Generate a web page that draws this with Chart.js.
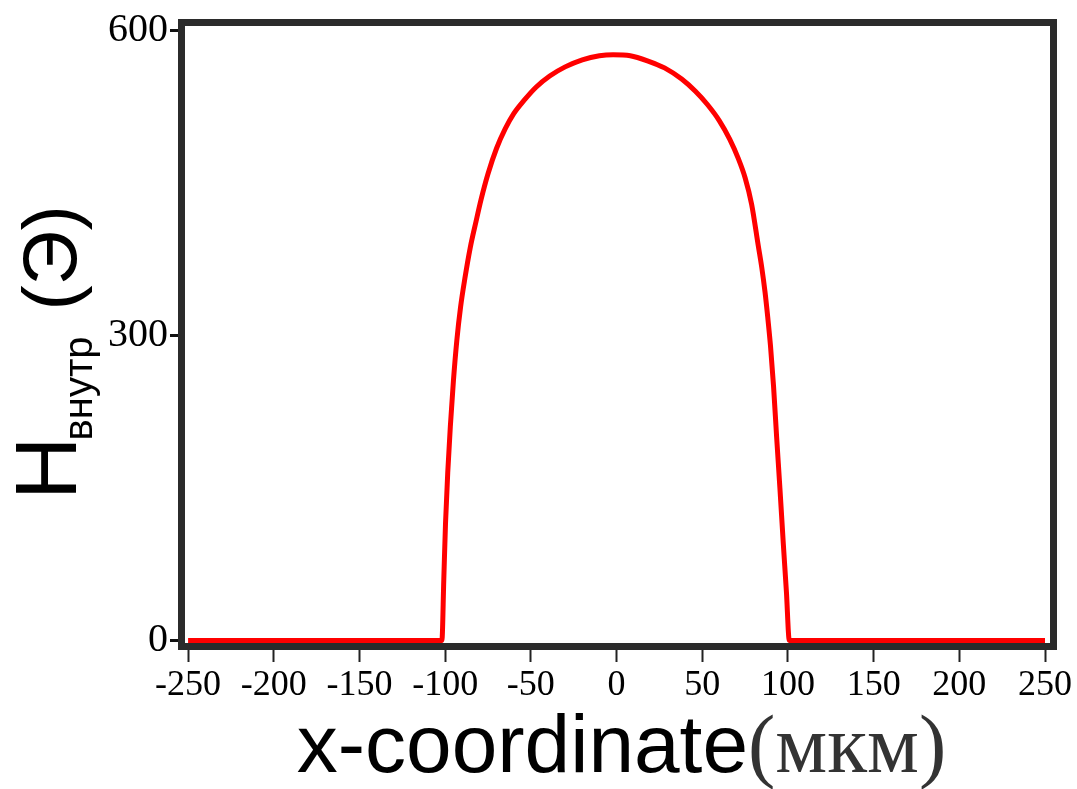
<!DOCTYPE html>
<html>
<head>
<meta charset="utf-8">
<script src="https://cdn.jsdelivr.net/npm/chart.js@4/dist/chart.umd.min.js"></script>
<style>
  html, body { margin: 0; padding: 0; background: #fff; }
  #wrap { width: 1077px; height: 789px; }
</style>
</head>
<body>
<div id="wrap"><canvas id="hChart"></canvas></div>
<script>
// x-coordinate (мкм) and H внутр (Э)
const xPos = [-250, -101.9, -100.8, -99.8, -98.5, -97, -95.2, -93.2, -91, -88.5, -85.4, -82, -79, -75, -70, -65, -60, -54, -47, -39, -30, -20, -10, -2, 8, 18, 28, 38, 46, 53, 60, 66, 71, 75, 78.8, 82.7, 84.7, 86.6, 88.2, 89.8, 91.6, 93.4, 95.3, 97.3, 99.1, 100.8, 250];
const hField = [0, 0, 60, 115, 165, 210, 255, 295, 328, 356, 386, 412, 434, 459, 484, 503, 518, 531, 544, 555, 564, 571, 575, 576, 575, 570, 563, 552, 540, 527, 511, 493, 474, 455, 429, 388, 367, 343, 318, 290, 250, 200, 150, 95, 48, 0, 0];

const xTicks = [-250, -200, -150, -100, -50, 0, 50, 100, 150, 200, 250];
const yTicks = [0, 300, 600];

const xTitle = 'x-coordinate';
const xUnit = '(мкм)';
const yTitleMain = 'H';
const yTitleSub = 'внутр';
const yTitleUnit = '(Э)';

const points = xPos.map((x, i) => ({ x: x, y: hField[i] }));

// frame on all four sides + the two axis titles
const framePlugin = {
    id: 'frame',
    afterDatasetsDraw(chart) {
        const a = chart.chartArea;
        const ctx = chart.ctx;
        ctx.save();
        ctx.strokeStyle = '#2b2b2b';
        ctx.lineWidth = 7;
        ctx.strokeRect(a.left - 3.5, a.top - 3.5, a.right - a.left + 7, a.bottom - a.top + 7);
        ctx.restore();
    },
    afterDraw(chart) {
        const a = chart.chartArea;
        const ctx = chart.ctx;
        ctx.save();
        ctx.textBaseline = 'alphabetic';
        ctx.textAlign = 'left';

        // x title
        const fMain = '82px "Liberation Sans", Arial, sans-serif';
        const fUnit = '82px "Liberation Serif", "Times New Roman", serif';
        ctx.font = fMain;
        const w1 = ctx.measureText(xTitle).width;
        ctx.font = fUnit;
        const w2 = ctx.measureText(xUnit).width;
        let x0 = (a.left + a.right) / 2 + 4 - (w1 + w2) / 2;
        const base = 772;
        ctx.font = fMain;
        ctx.fillStyle = '#000';
        ctx.fillText(xTitle, x0, base);
        ctx.font = fUnit;
        ctx.fillStyle = '#333';
        ctx.fillText(xUnit, x0 + w1, base);

        // y title, rotated
        ctx.translate(76, 500);
        ctx.rotate(-Math.PI / 2);
        ctx.fillStyle = '#000';
        let t = 0;
        ctx.font = '88px "Liberation Sans", Arial, sans-serif';
        ctx.fillText(yTitleMain, t, 0);
        t += ctx.measureText(yTitleMain).width - 4;
        ctx.font = '40px "Liberation Sans", Arial, sans-serif';
        ctx.fillText(yTitleSub, t, 16);
        t += ctx.measureText(yTitleSub).width + 26;
        ctx.font = '76px "Liberation Sans", Arial, sans-serif';
        ctx.fillText(yTitleUnit, t, 0);
        ctx.restore();
    }
};

const ctx = document.getElementById('hChart').getContext('2d');
new Chart(ctx, {
    type: 'scatter',
    data: {
        datasets: [{
            data: points,
            showLine: true,
            borderColor: '#ff0000',
            borderWidth: 5,
            pointRadius: 0,
            cubicInterpolationMode: 'monotone',
            fill: false
        }]
    },
    options: {
        responsive: true,
        maintainAspectRatio: false,
        animation: false,
        layout: { padding: { top: 25, right: 27, left: 0, bottom: 0 } },
        plugins: {
            legend: { display: false },
            tooltip: { enabled: false }
        },
        scales: {
            x: {
                type: 'linear',
                min: -251.8,
                max: 252.9,
                afterBuildTicks: s => { s.ticks = xTicks.map(v => ({ value: v })); },
                afterFit: s => { s.height = 146; },
                border: { display: false },
                grid: {
                    drawOnChartArea: false,
                    drawTicks: true,
                    tickLength: 19,
                    tickColor: '#222',
                    tickWidth: 2
                },
                ticks: {
                    color: '#000',
                    padding: 2,
                    maxRotation: 0,
                    autoSkip: false,
                    font: { family: '"Liberation Serif", "Times New Roman", serif', size: 36 }
                }
            },
            y: {
                type: 'linear',
                min: -2.45,
                max: 604.2,
                afterBuildTicks: s => { s.ticks = yTicks.map(v => ({ value: v })); },
                afterFit: s => { s.width = 185; },
                border: { display: false },
                grid: {
                    drawOnChartArea: false,
                    drawTicks: true,
                    tickLength: 15,
                    tickColor: '#111',
                    tickWidth: 3
                },
                ticks: {
                    color: '#000',
                    padding: 2,
                    autoSkip: false,
                    font: { family: '"Liberation Serif", "Times New Roman", serif', size: 40 }
                }
            }
        }
    },
    plugins: [framePlugin]
});
</script>
</body>
</html>
